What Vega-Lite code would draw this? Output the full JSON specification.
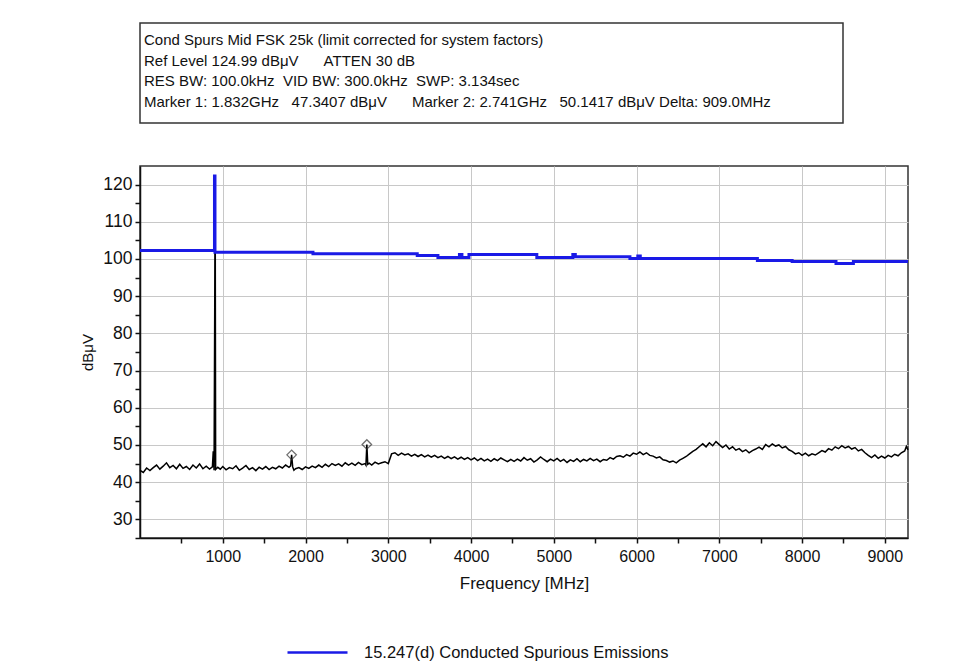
{
  "$schema": "https://vega.github.io/schema/vega-lite/v6.json",
  "padding": {"top": 22, "left": 80, "right": 10, "bottom": 5},
  "background": "white",
  "config": {"font": "Liberation Sans"},
  "datasets": {
    "header": [
      {"line": 1, "text": "Cond Spurs Mid FSK 25k (limit corrected for system factors)"},
      {"line": 2, "text": "Ref Level 124.99 dBμV\u00a0\u00a0\u00a0\u00a0\u00a0\u00a0ATTEN 30 dB"},
      {"line": 3, "text": "RES BW: 100.0kHz\u00a0\u00a0VID BW: 300.0kHz\u00a0\u00a0SWP: 3.134sec"},
      {"line": 4, "text": "Marker 1: 1.832GHz\u00a0\u00a0\u00a047.3407 dBμV\u00a0\u00a0\u00a0\u00a0\u00a0\u00a0Marker 2: 2.741GHz\u00a0\u00a0\u00a050.1417 dBμV Delta: 909.0MHz"}
    ],
    "limit": [
      {"f": 0, "v": 102.3}, {"f": 900, "v": 122.3}, {"f": 906, "v": 101.8}, {"f": 2090, "v": 101.4},
      {"f": 3350, "v": 100.9}, {"f": 3600, "v": 100.4}, {"f": 3860, "v": 101.2}, {"f": 3890, "v": 100.4},
      {"f": 3975, "v": 101.2}, {"f": 4795, "v": 100.4}, {"f": 5230, "v": 101.2}, {"f": 5260, "v": 100.6},
      {"f": 5920, "v": 100.1}, {"f": 6015, "v": 100.8}, {"f": 6045, "v": 100.1}, {"f": 7460, "v": 99.6},
      {"f": 7880, "v": 99.3}, {"f": 8410, "v": 98.8}, {"f": 8620, "v": 99.3}, {"f": 9280, "v": 99.3}
    ],
    "markers": [
      {"f": 1832, "v": 47.34}, {"f": 2741, "v": 50.14}
    ],
    "trace": [
      {"f": 0, "v": 43.2}, {"f": 40, "v": 42.6}, {"f": 80, "v": 43.8}, {"f": 120, "v": 43.1}, {"f": 160, "v": 43.9},
      {"f": 200, "v": 44.6}, {"f": 240, "v": 43.5}, {"f": 280, "v": 44.3}, {"f": 320, "v": 45.2}, {"f": 360, "v": 43.9},
      {"f": 400, "v": 44.5}, {"f": 440, "v": 43.6}, {"f": 480, "v": 44.8}, {"f": 520, "v": 43.7}, {"f": 560, "v": 44.2},
      {"f": 600, "v": 43.4}, {"f": 640, "v": 44.6}, {"f": 680, "v": 43.8}, {"f": 720, "v": 44.9}, {"f": 760, "v": 43.6},
      {"f": 800, "v": 44.3}, {"f": 840, "v": 43.5}, {"f": 875, "v": 44.1}, {"f": 885, "v": 48.3}, {"f": 895, "v": 43.2},
      {"f": 903, "v": 87.0}, {"f": 908, "v": 122.2}, {"f": 914, "v": 43.4},
      {"f": 940, "v": 44.0}, {"f": 970, "v": 43.5}, {"f": 1000, "v": 44.2}, {"f": 1040, "v": 43.3}, {"f": 1080, "v": 43.9},
      {"f": 1120, "v": 43.6}, {"f": 1160, "v": 44.4}, {"f": 1200, "v": 43.2}, {"f": 1240, "v": 43.8}, {"f": 1280, "v": 44.5},
      {"f": 1320, "v": 43.4}, {"f": 1360, "v": 43.9}, {"f": 1400, "v": 43.1}, {"f": 1440, "v": 44.0}, {"f": 1480, "v": 43.5},
      {"f": 1520, "v": 44.2}, {"f": 1560, "v": 43.4}, {"f": 1600, "v": 44.0}, {"f": 1640, "v": 43.6}, {"f": 1680, "v": 44.3},
      {"f": 1720, "v": 43.8}, {"f": 1760, "v": 44.6}, {"f": 1800, "v": 44.0}, {"f": 1820, "v": 44.4}, {"f": 1832, "v": 47.34},
      {"f": 1845, "v": 44.1}, {"f": 1860, "v": 43.2}, {"f": 1880, "v": 43.6}, {"f": 1920, "v": 43.9}, {"f": 1960, "v": 43.4},
      {"f": 2000, "v": 44.1}, {"f": 2040, "v": 43.7}, {"f": 2080, "v": 44.3}, {"f": 2120, "v": 43.9}, {"f": 2160, "v": 44.6},
      {"f": 2200, "v": 44.0}, {"f": 2240, "v": 44.8}, {"f": 2280, "v": 44.2}, {"f": 2320, "v": 45.0}, {"f": 2360, "v": 44.5},
      {"f": 2400, "v": 44.9}, {"f": 2440, "v": 44.3}, {"f": 2480, "v": 45.2}, {"f": 2520, "v": 44.6}, {"f": 2560, "v": 45.1},
      {"f": 2600, "v": 44.5}, {"f": 2640, "v": 45.3}, {"f": 2680, "v": 44.7}, {"f": 2720, "v": 45.0}, {"f": 2730, "v": 44.6},
      {"f": 2741, "v": 50.14}, {"f": 2752, "v": 44.8}, {"f": 2770, "v": 45.1},
      {"f": 2800, "v": 44.6}, {"f": 2840, "v": 45.4}, {"f": 2880, "v": 44.9}, {"f": 2920, "v": 45.2}, {"f": 2960, "v": 45.5},
      {"f": 3000, "v": 45.0}, {"f": 3040, "v": 47.6}, {"f": 3080, "v": 47.9}, {"f": 3120, "v": 47.2}, {"f": 3160, "v": 47.8},
      {"f": 3200, "v": 47.3}, {"f": 3240, "v": 47.6}, {"f": 3280, "v": 47.0}, {"f": 3320, "v": 47.5}, {"f": 3360, "v": 46.9},
      {"f": 3400, "v": 47.4}, {"f": 3440, "v": 46.8}, {"f": 3480, "v": 47.3}, {"f": 3520, "v": 46.7}, {"f": 3560, "v": 47.2},
      {"f": 3600, "v": 46.6}, {"f": 3640, "v": 47.0}, {"f": 3680, "v": 46.4}, {"f": 3720, "v": 46.9}, {"f": 3760, "v": 46.3},
      {"f": 3800, "v": 46.8}, {"f": 3840, "v": 46.2}, {"f": 3880, "v": 46.7}, {"f": 3920, "v": 46.1}, {"f": 3960, "v": 46.6},
      {"f": 4000, "v": 46.0}, {"f": 4040, "v": 46.5}, {"f": 4080, "v": 45.8}, {"f": 4120, "v": 46.4}, {"f": 4160, "v": 45.7},
      {"f": 4200, "v": 46.2}, {"f": 4240, "v": 45.6}, {"f": 4280, "v": 46.3}, {"f": 4320, "v": 45.8}, {"f": 4360, "v": 46.5},
      {"f": 4400, "v": 46.0}, {"f": 4440, "v": 45.5}, {"f": 4480, "v": 46.1}, {"f": 4520, "v": 45.6}, {"f": 4560, "v": 46.2},
      {"f": 4600, "v": 45.7}, {"f": 4640, "v": 46.6}, {"f": 4680, "v": 45.9}, {"f": 4720, "v": 46.3}, {"f": 4760, "v": 45.4},
      {"f": 4800, "v": 46.0}, {"f": 4840, "v": 46.8}, {"f": 4880, "v": 46.1}, {"f": 4920, "v": 45.5}, {"f": 4960, "v": 46.2},
      {"f": 5000, "v": 45.7}, {"f": 5040, "v": 46.4}, {"f": 5080, "v": 45.6}, {"f": 5120, "v": 46.1}, {"f": 5160, "v": 45.3},
      {"f": 5200, "v": 46.0}, {"f": 5240, "v": 45.6}, {"f": 5280, "v": 46.3}, {"f": 5320, "v": 45.5}, {"f": 5360, "v": 46.1},
      {"f": 5400, "v": 45.7}, {"f": 5440, "v": 46.4}, {"f": 5480, "v": 45.8}, {"f": 5520, "v": 46.2}, {"f": 5560, "v": 45.5},
      {"f": 5600, "v": 46.1}, {"f": 5640, "v": 45.9}, {"f": 5680, "v": 46.6}, {"f": 5720, "v": 46.2}, {"f": 5760, "v": 46.9},
      {"f": 5800, "v": 47.1}, {"f": 5840, "v": 46.7}, {"f": 5880, "v": 47.4}, {"f": 5920, "v": 47.0}, {"f": 5960, "v": 47.8},
      {"f": 6000, "v": 47.5}, {"f": 6040, "v": 48.1}, {"f": 6080, "v": 47.4}, {"f": 6120, "v": 47.9}, {"f": 6160, "v": 47.2},
      {"f": 6200, "v": 47.0}, {"f": 6240, "v": 46.5}, {"f": 6280, "v": 46.8}, {"f": 6320, "v": 46.0}, {"f": 6360, "v": 45.8},
      {"f": 6400, "v": 45.4}, {"f": 6440, "v": 45.7}, {"f": 6480, "v": 45.2}, {"f": 6520, "v": 45.9}, {"f": 6560, "v": 46.4},
      {"f": 6600, "v": 46.9}, {"f": 6640, "v": 47.6}, {"f": 6680, "v": 48.3}, {"f": 6720, "v": 48.8}, {"f": 6760, "v": 49.6},
      {"f": 6800, "v": 50.3}, {"f": 6840, "v": 49.5}, {"f": 6880, "v": 50.6}, {"f": 6920, "v": 49.8}, {"f": 6960, "v": 50.9},
      {"f": 7000, "v": 50.1}, {"f": 7040, "v": 49.3}, {"f": 7080, "v": 50.0}, {"f": 7120, "v": 48.9}, {"f": 7160, "v": 49.5},
      {"f": 7200, "v": 48.6}, {"f": 7240, "v": 49.0}, {"f": 7280, "v": 48.2}, {"f": 7320, "v": 48.7}, {"f": 7360, "v": 47.9},
      {"f": 7400, "v": 48.5}, {"f": 7440, "v": 48.9}, {"f": 7480, "v": 49.4}, {"f": 7520, "v": 48.8}, {"f": 7560, "v": 50.1},
      {"f": 7600, "v": 49.5}, {"f": 7640, "v": 50.3}, {"f": 7680, "v": 49.7}, {"f": 7720, "v": 50.0}, {"f": 7760, "v": 49.2},
      {"f": 7800, "v": 49.6}, {"f": 7840, "v": 48.7}, {"f": 7880, "v": 48.3}, {"f": 7920, "v": 47.6}, {"f": 7960, "v": 47.9},
      {"f": 8000, "v": 47.2}, {"f": 8040, "v": 47.8}, {"f": 8080, "v": 47.1}, {"f": 8120, "v": 47.6}, {"f": 8160, "v": 47.3},
      {"f": 8200, "v": 47.9}, {"f": 8240, "v": 48.5}, {"f": 8280, "v": 48.1}, {"f": 8320, "v": 49.0}, {"f": 8360, "v": 48.6},
      {"f": 8400, "v": 49.5}, {"f": 8440, "v": 49.0}, {"f": 8480, "v": 49.8}, {"f": 8520, "v": 49.2}, {"f": 8560, "v": 49.6},
      {"f": 8600, "v": 48.9}, {"f": 8640, "v": 49.3}, {"f": 8680, "v": 48.4}, {"f": 8720, "v": 48.8}, {"f": 8760, "v": 47.9},
      {"f": 8800, "v": 47.2}, {"f": 8840, "v": 46.6}, {"f": 8880, "v": 47.3}, {"f": 8920, "v": 46.4}, {"f": 8960, "v": 47.0},
      {"f": 9000, "v": 46.5}, {"f": 9040, "v": 47.2}, {"f": 9080, "v": 46.8}, {"f": 9120, "v": 47.5}, {"f": 9160, "v": 47.1},
      {"f": 9200, "v": 47.9}, {"f": 9240, "v": 48.4}, {"f": 9260, "v": 49.6}, {"f": 9280, "v": 48.7}
    ]
  },
  "vconcat": [
    {
      "width": 703,
      "height": 100,
      "view": {"stroke": "#333333", "strokeWidth": 1.5},
      "data": {"name": "header"},
      "mark": {"type": "text", "align": "left", "baseline": "middle", "dx": 4, "dy": -2, "fontSize": 15, "color": "#111111"},
      "encoding": {
        "x": {"datum": 0, "type": "quantitative", "scale": {"domain": [0, 1]}, "axis": null},
        "y": {"field": "line", "type": "ordinal", "axis": null, "scale": {"type": "point", "padding": 0.915}},
        "text": {"field": "text"}
      }
    },
    {
      "width": 768,
      "height": 372,
      "view": {"stroke": "#333333", "strokeWidth": 1.5},
      "layer": [
        {
          "data": {"name": "trace"},
          "mark": {"type": "line", "color": "#000000", "strokeWidth": 1.5},
          "encoding": {
            "x": {
              "field": "f", "type": "quantitative",
              "scale": {"domain": [0, 9280], "nice": false, "zero": false},
              "axis": {
                "title": "Frequency [MHz]",
                "values": [500, 1000, 1500, 2000, 2500, 3000, 3500, 4000, 4500, 5000, 5500, 6000, 6500, 7000, 7500, 8000, 8500, 9000],
                "tickCount": 40,
                "labelExpr": "datum.value % 1000 == 0 ? datum.label : ''",
                "format": "d",
                "grid": true,
                "gridColor": "#c8c8c8",
                "gridOpacity": {"condition": {"test": "datum.value % 1000 == 0", "value": 1}, "value": 0},
                "domainColor": "#111111", "domainWidth": 1.5,
                "tickColor": "#111111", "tickWidth": 1.5, "tickSize": 5,
                "labelFontSize": 16, "labelColor": "#111111", "labelPadding": 5, "labelOverlap": false,
                "titleFontSize": 17, "titleFontWeight": "normal", "titleColor": "#111111", "titlePadding": 11
              }
            },
            "y": {
              "field": "v", "type": "quantitative",
              "scale": {"domain": [24.99, 124.99], "nice": false, "zero": false},
              "axis": {
                "title": "dBμV",
                "values": [25, 30, 35, 40, 45, 50, 55, 60, 65, 70, 75, 80, 85, 90, 95, 100, 105, 110, 115, 120],
                "tickCount": 40,
                "labelExpr": "datum.value % 10 == 0 ? datum.label : ''",
                "grid": true,
                "gridColor": "#c8c8c8",
                "gridOpacity": {"condition": {"test": "datum.value % 10 == 0", "value": 1}, "value": 0},
                "domainColor": "#111111", "domainWidth": 1.5,
                "tickColor": "#111111", "tickWidth": 1.5, "tickSize": 5,
                "labelFontSize": 17.5, "labelColor": "#111111", "labelPadding": 3, "labelOverlap": false,
                "titleFontSize": 15, "titleFontWeight": "normal", "titleColor": "#111111", "titlePadding": 7
              }
            }
          }
        },
        {
          "data": {"name": "limit"},
          "mark": {"type": "line", "interpolate": "step-after", "strokeWidth": 3},
          "encoding": {
            "x": {"field": "f", "type": "quantitative"},
            "y": {"field": "v", "type": "quantitative"},
            "color": {
              "datum": "15.247(d) Conducted Spurious Emissions",
              "type": "nominal",
              "scale": {"range": ["#1a1ae6"]},
              "legend": {
                "title": null, "orient": "none", "legendX": 146, "legendY": 598,
                "symbolType": "stroke", "symbolSize": 3600,
                "symbolStrokeWidth": 2.5, "labelFontSize": 16.5,
                "labelColor": "#111111", "labelOffset": 15, "labelLimit": 500,
                "labelFont": "Liberation Sans",
                "encode": {"symbols": {"update": {"stroke": {"value": "#1e1e8c"}}}}
              }
            }
          }
        },
        {
          "data": {"name": "markers"},
          "mark": {"type": "point", "shape": "diamond", "filled": false, "size": 90, "color": "#333333", "strokeWidth": 1.3},
          "encoding": {
            "x": {"field": "f", "type": "quantitative"},
            "y": {"field": "v", "type": "quantitative"}
          }
        }
      ]
    }
  ],
  "spacing": 41
}
